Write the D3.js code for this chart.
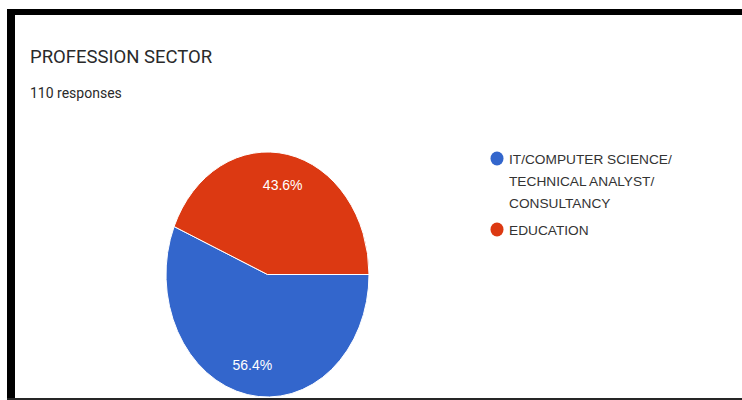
<!DOCTYPE html>
<html>
<head>
<meta charset="utf-8">
<script src="https://cdn.jsdelivr.net/npm/d3@7"></script>
<style>
  html, body { margin: 0; padding: 0; background: #ffffff; }
  svg { display: block; }
</style>
</head>
<body>
<svg id="chart" width="742" height="400"></svg>
<script>
// Survey question: profession sector of respondents
const chartTitle = "PROFESSION SECTOR";
const responseNote = "110 responses";
const categories = ["IT/COMPUTER SCIENCE/ TECHNICAL ANALYST/ CONSULTANCY", "EDUCATION"];
const legendLines = [["IT/COMPUTER SCIENCE/", "TECHNICAL ANALYST/", "CONSULTANCY"], ["EDUCATION"]];
const shares = [56.4, 43.6];
const sliceColors = ["#3366cc", "#dc3912"];

const svg = d3.select("#chart");

// card frame: heavy top and left edges, thin bottom edge
svg.append("rect").attr("x", 0).attr("y", 0).attr("width", 742).attr("height", 400).attr("fill", "#ffffff");
svg.append("rect").attr("x", 7).attr("y", 9).attr("width", 735).attr("height", 6).attr("fill", "#000000");
svg.append("rect").attr("x", 7).attr("y", 9).attr("width", 8).attr("height", 391).attr("fill", "#000000");
svg.append("rect").attr("x", 7).attr("y", 398).attr("width", 735).attr("height", 2).attr("fill", "#262626");

// heading
svg.append("text")
  .attr("x", 30).attr("y", 63)
  .attr("font-family", "Roboto, sans-serif")
  .attr("font-size", 18.5)
  .attr("fill", "#2a2a2a")
  .text(chartTitle);

svg.append("text")
  .attr("x", 30).attr("y", 98)
  .attr("font-family", "Roboto, sans-serif")
  .attr("font-size", 14)
  .attr("fill", "#2a2a2a")
  .text(responseNote);

// pie, drawn as a circle then stretched vertically
const cx = 267.5, cy = 274.5, radius = 101.5, stretchY = 1.207;

const pie = d3.pie()
  .sort(null)
  .value(d => d)
  .startAngle(Math.PI / 2)
  .endAngle(Math.PI / 2 + 2 * Math.PI);

const arcs = pie(shares);
const arc = d3.arc().innerRadius(0).outerRadius(radius);
const labelArc = d3.arc().innerRadius(radius * 0.75).outerRadius(radius * 0.75);

const pieGroup = svg.append("g")
  .attr("transform", `translate(${cx},${cy}) scale(1,${stretchY})`);

pieGroup.selectAll("path")
  .data(arcs)
  .join("path")
  .attr("d", arc)
  .attr("fill", (d, i) => sliceColors[i])
  .attr("stroke", "#ffffff")
  .attr("stroke-width", 1)
  .attr("vector-effect", "non-scaling-stroke");

svg.append("g")
  .attr("transform", `translate(${cx},${cy})`)
  .selectAll("text")
  .data(arcs)
  .join("text")
  .attr("x", d => labelArc.centroid(d)[0])
  .attr("y", d => labelArc.centroid(d)[1] * stretchY)
  .attr("dy", "0.36em")
  .attr("text-anchor", "middle")
  .attr("font-family", "'Liberation Sans', Arial, sans-serif")
  .attr("font-size", 14)
  .attr("fill", "#ffffff")
  .text(d => d.data.toFixed(1) + "%");

// legend
const legendX = 497, legendTextX = 509;
const legendRowY = [158.5, 229.5];
const legend = svg.append("g");

categories.forEach((name, i) => {
  const row = legend.append("g").attr("class", "legend-row").attr("data-name", name);
  row.append("ellipse")
    .attr("cx", legendX).attr("cy", legendRowY[i])
    .attr("rx", 6.5).attr("ry", 7)
    .attr("fill", sliceColors[i]);
  legendLines[i].forEach((line, j) => {
    row.append("text")
      .attr("x", legendTextX)
      .attr("y", legendRowY[i] + 5.5 + j * 22)
      .attr("font-family", "'Liberation Sans', Arial, sans-serif")
      .attr("font-size", 13.7)
      .attr("fill", "#333333")
      .text(line);
  });
});
</script>
</body>
</html>
